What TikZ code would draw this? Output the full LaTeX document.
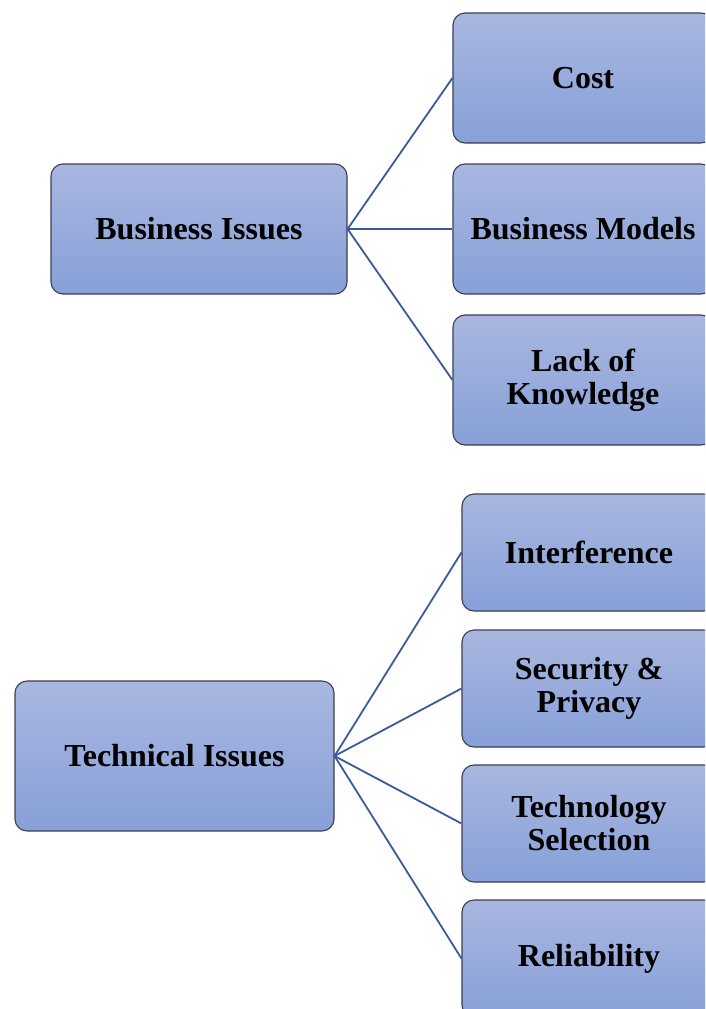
\documentclass[tikz,border=0pt]{standalone}
\usepackage{fontspec}
\setmainfont{Liberation Serif}
\begin{document}
\begin{tikzpicture}[x=1pt,y=-1pt,
  box/.style={draw=boxborder, line width=1.1pt, rounded corners=12pt,
    top color=boxtop, bottom color=boxbot, align=center, inner sep=0pt,
    font=\fontsize{32}{33}\selectfont\bfseries, text=black},
  link/.style={draw=linkblue, line width=1.8pt}]
\definecolor{boxtop}{HTML}{A9B7E0}
\definecolor{boxbot}{HTML}{87A0D8}
\definecolor{boxborder}{HTML}{3A3F52}
\definecolor{linkblue}{HTML}{3B5A9C}
\useasboundingbox (0,0) rectangle (705,1009);
\clip (0,0) rectangle (705,1009);
\node[box, minimum width=296pt, minimum height=130pt] (bi) at (199,229) {Business Issues};
\node[box, minimum width=260pt, minimum height=130pt] (cost) at (583,78) {Cost};
\node[box, minimum width=260pt, minimum height=130pt] (bm) at (583,229) {Business Models};
\node[box, minimum width=260pt, minimum height=130pt] (lk) at (583,380) {Lack of\\Knowledge};
\node[box, minimum width=319pt, minimum height=150pt] (ti) at (174.5,756) {Technical Issues};
\node[box, minimum width=254pt, minimum height=117pt] (inf) at (589,552.5) {Interference};
\node[box, minimum width=254pt, minimum height=117pt] (sp) at (589,688.5) {Security \&\\Privacy};
\node[box, minimum width=254pt, minimum height=117pt] (ts) at (589,823.5) {Technology\\Selection};
\node[box, minimum width=254pt, minimum height=117pt] (rel) at (589,958.5) {Reliability};
\draw[link] (bi.east) -- (cost.west);
\draw[link] (bi.east) -- (bm.west);
\draw[link] (bi.east) -- (lk.west);
\draw[link] (ti.east) -- (inf.west);
\draw[link] (ti.east) -- (sp.west);
\draw[link] (ti.east) -- (ts.west);
\draw[link] (ti.east) -- (rel.west);
\end{tikzpicture}
\end{document}
